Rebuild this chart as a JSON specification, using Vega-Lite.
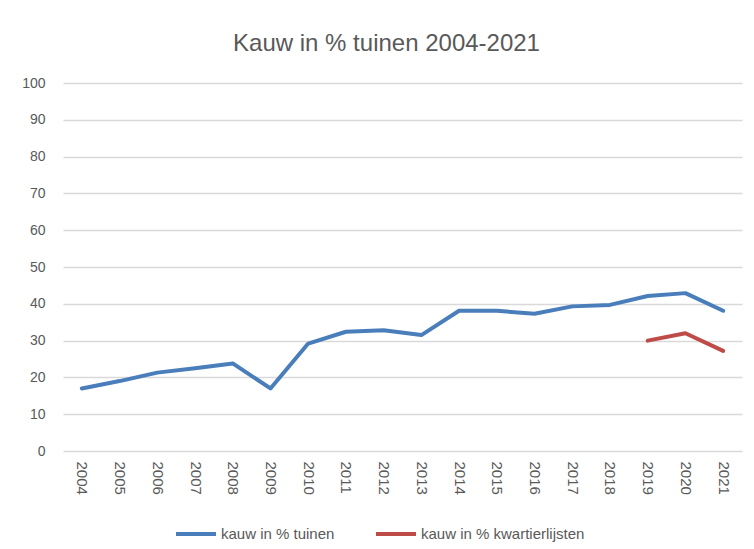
{
  "$schema": "https://vega.github.io/schema/vega-lite/v6.json",
  "width": 679,
  "height": 368,
  "autosize": {"type": "none"},
  "padding": {"left": 63, "top": 83, "right": 12, "bottom": 98},
  "background": "white",
  "title": {
    "text": "Kauw in % tuinen 2004-2021",
    "fontSize": 24,
    "font": "Liberation Sans",
    "fontWeight": "normal",
    "color": "#595959",
    "anchor": "middle",
    "dx": -16,
    "offset": 20
  },
  "config": {
    "view": {"stroke": null},
    "font": "Liberation Sans",
    "axis": {"labelColor": "#595959", "labelFont": "Liberation Sans", "title": null, "ticks": false, "domain": false}
  },
  "data": {
    "values": [
      {"jaar": "2004", "reeks": "kauw in % tuinen", "waarde": 17},
      {"jaar": "2005", "reeks": "kauw in % tuinen", "waarde": 19},
      {"jaar": "2006", "reeks": "kauw in % tuinen", "waarde": 21.3},
      {"jaar": "2007", "reeks": "kauw in % tuinen", "waarde": 22.5},
      {"jaar": "2008", "reeks": "kauw in % tuinen", "waarde": 23.8},
      {"jaar": "2009", "reeks": "kauw in % tuinen", "waarde": 17},
      {"jaar": "2010", "reeks": "kauw in % tuinen", "waarde": 29.2},
      {"jaar": "2011", "reeks": "kauw in % tuinen", "waarde": 32.4},
      {"jaar": "2012", "reeks": "kauw in % tuinen", "waarde": 32.8},
      {"jaar": "2013", "reeks": "kauw in % tuinen", "waarde": 31.5},
      {"jaar": "2014", "reeks": "kauw in % tuinen", "waarde": 38.1},
      {"jaar": "2015", "reeks": "kauw in % tuinen", "waarde": 38.1},
      {"jaar": "2016", "reeks": "kauw in % tuinen", "waarde": 37.3},
      {"jaar": "2017", "reeks": "kauw in % tuinen", "waarde": 39.3},
      {"jaar": "2018", "reeks": "kauw in % tuinen", "waarde": 39.7},
      {"jaar": "2019", "reeks": "kauw in % tuinen", "waarde": 42.1},
      {"jaar": "2020", "reeks": "kauw in % tuinen", "waarde": 42.9},
      {"jaar": "2021", "reeks": "kauw in % tuinen", "waarde": 38.1},
      {"jaar": "2019", "reeks": "kauw in % kwartierlijsten", "waarde": 30},
      {"jaar": "2020", "reeks": "kauw in % kwartierlijsten", "waarde": 32},
      {"jaar": "2021", "reeks": "kauw in % kwartierlijsten", "waarde": 27.2}
    ]
  },
  "mark": {"type": "line", "strokeWidth": 4, "strokeCap": "round", "strokeJoin": "round"},
  "encoding": {
    "x": {
      "field": "jaar",
      "type": "ordinal",
      "scale": {"paddingInner": 0, "paddingOuter": 0.5},
      "axis": {"labelAngle": 90, "labelAlign": "left", "labelBaseline": "middle", "labelFontSize": 15, "labelPadding": 10, "grid": false}
    },
    "y": {
      "field": "waarde",
      "type": "quantitative",
      "scale": {"domain": [0, 100], "nice": false},
      "axis": {"values": [0, 10, 20, 30, 40, 50, 60, 70, 80, 90, 100], "labelFontSize": 14, "labelPadding": 18, "grid": true, "gridColor": "#d9d9d9", "gridWidth": 1.3}
    },
    "color": {
      "field": "reeks",
      "type": "nominal",
      "sort": ["kauw in % tuinen", "kauw in % kwartierlijsten"],
      "scale": {"domain": ["kauw in % tuinen", "kauw in % kwartierlijsten"], "range": ["#4a7ebb", "#be4b48"]},
      "legend": {
        "title": null,
        "orient": "none",
        "direction": "horizontal",
        "legendX": 111,
        "legendY": 429,
        "symbolType": "stroke",
        "symbolSize": 1600,
        "symbolStrokeWidth": 4,
        "labelFontSize": 15,
        "labelColor": "#595959",
        "labelLimit": 400,
        "columnPadding": 33,
        "labelOffset": 3
      }
    }
  }
}
